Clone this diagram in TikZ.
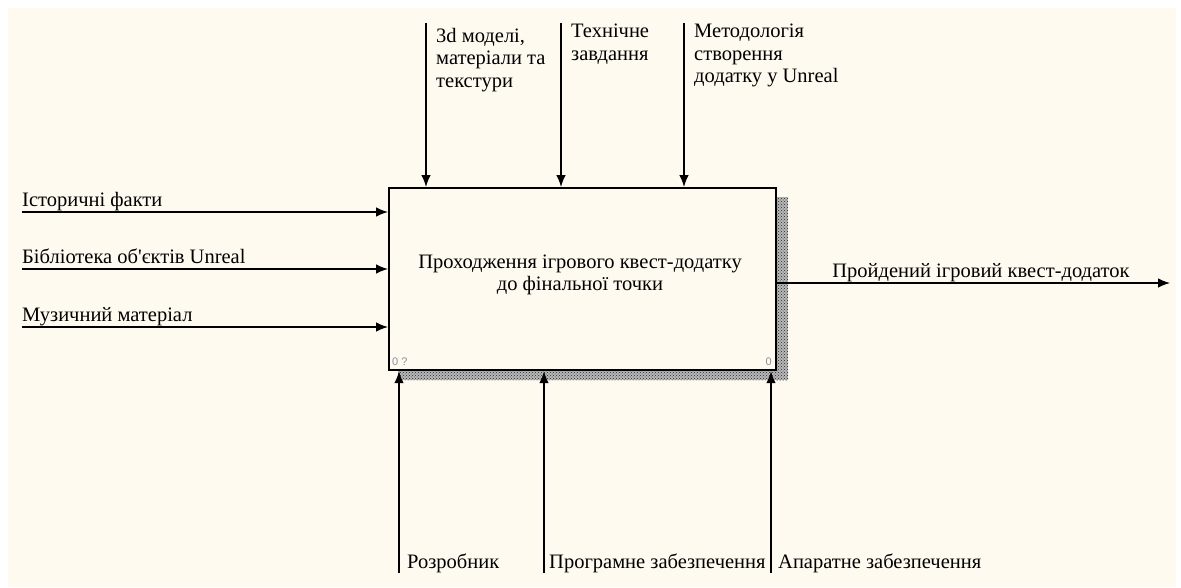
\documentclass[tikz,border=0pt]{standalone}
\usepackage{fontspec}
\setmainfont{Liberation Serif}
\newfontfamily\smallsans{Liberation Sans}
\usetikzlibrary{arrows.meta,patterns}
\definecolor{bgcream}{HTML}{FFFAF0}
\definecolor{numgray}{HTML}{8A8F9A}
\begin{document}
\begin{tikzpicture}[x=1pt,y=-1pt,
  lbl/.style={font=\fontsize{20.5}{22.5}\selectfont, inner sep=0pt},
  toplbl/.style={lbl, anchor=north west, align=left},
  arr/.style={draw=black, line width=1.3pt, -{Latex[length=12pt,width=9.5pt]}},
  shadowfill/.style={fill=black!28, postaction={pattern=crosshatch dots, pattern color=black!85}},
  num/.style={font=\smallsans\fontsize{11}{12}\selectfont, text=numgray, inner sep=0pt}]
\useasboundingbox (0,0) rectangle (1181,587);
\fill[bgcream] (8,8) rectangle (1176,587);
% shadow
\path[shadowfill] (776,197) rectangle (788,380);
\path[shadowfill] (398,370) rectangle (788,380);
% main box
\node[draw=black, line width=2.2pt, fill=bgcream, minimum width=387pt, minimum height=182pt, anchor=north west, inner sep=0pt] (box) at (388,187) {};
\node[lbl, align=center] (title) at (580,275) {Проходження ігрового квест-додатку\\до фінальної точки};
\node[num, anchor=south west] (n1) at (392,366) {0 ?};
\node[num, anchor=south east] (n2) at (772,366) {0};
% top controls
\coordinate (t1) at (426,23);
\coordinate (t2) at (561,23);
\coordinate (t3) at (684,23);
\draw[arr] (t1) -- (t1 |- box.north);
\draw[arr] (t2) -- (t2 |- box.north);
\draw[arr] (t3) -- (t3 |- box.north);
\node[toplbl] (l1) at (436,28) {3d моделі,\\матеріали та\\текстури};
\node[toplbl] (l2) at (571,24) {Технічне\\завдання};
\node[toplbl] (l3) at (694,24) {Методологія\\створення\\додатку у Unreal};
% left inputs
\coordinate (i1) at (22,212);
\coordinate (i2) at (22,269);
\coordinate (i3) at (22,327);
\draw[arr] (i1) -- (i1 -| box.west);
\draw[arr] (i2) -- (i2 -| box.west);
\draw[arr] (i3) -- (i3 -| box.west);
\node[lbl, anchor=base west] (li1) at (22,206) {Історичні факти};
\node[lbl, anchor=base west] (li2) at (22,263) {Бібліотека об\textquotesingle єктів Unreal};
\node[lbl, anchor=base west] (li3) at (22,321) {Музичний матеріал};
% output
\coordinate (o1) at (1170,283);
\draw[arr] (o1 -| box.east) -- (o1);
\node[lbl, anchor=base] (lo1) at (981,277) {Пройдений ігровий квест-додаток};
% bottom mechanisms
\coordinate (b1) at (399,573);
\coordinate (b2) at (544,573);
\coordinate (b3) at (771,573);
\draw[arr] (b1) -- (b1 |- box.south);
\draw[arr] (b2) -- (b2 |- box.south);
\draw[arr] (b3) -- (b3 |- box.south);
\node[lbl, anchor=base west] (lb1) at (407,568) {Розробник};
\node[lbl, anchor=base west] (lb2) at (549,568) {Програмне забезпечення};
\node[lbl, anchor=base west] (lb3) at (778,568) {Апаратне забезпечення};
\end{tikzpicture}
\end{document}
